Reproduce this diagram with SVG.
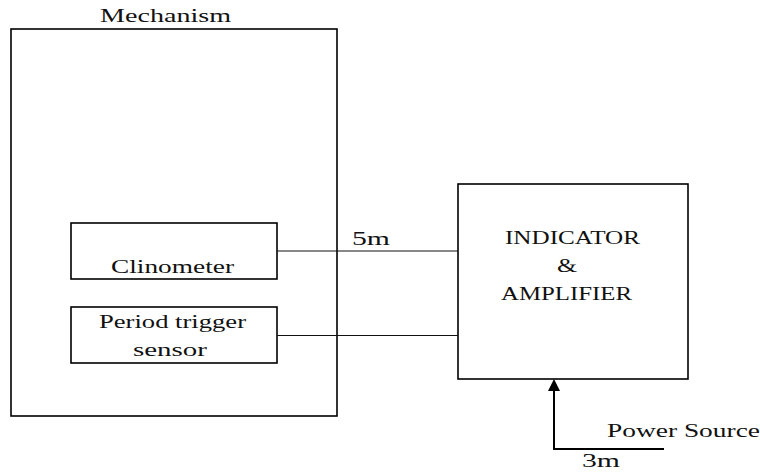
<svg xmlns="http://www.w3.org/2000/svg" width="760" height="472" viewBox="0 0 760 472">
<style>
.box{fill:none;stroke:#000;stroke-width:1.6}
.ln{fill:none;stroke:#111;stroke-width:1.2}
text{font-family:"Liberation Serif","DejaVu Serif",serif;font-size:18px;fill:#111}
</style>
<defs>
<marker id="ah" viewBox="0 0 12 12" markerWidth="12" markerHeight="12" refX="1" refY="6" orient="auto" markerUnits="userSpaceOnUse">
<path d="M0,0 L12,6 L0,12 Z" fill="#000"/>
</marker>
</defs>
<rect width="760" height="472" fill="#fff"/>
<g id="mechanism">
<rect class="box" x="11" y="29" width="326" height="387"/>
<text x="100" y="22" textLength="131" lengthAdjust="spacingAndGlyphs">Mechanism</text>
</g>
<g id="clinometer">
<rect class="box" x="71" y="223" width="206" height="56"/>
<text x="111" y="273" textLength="123" lengthAdjust="spacingAndGlyphs">Clinometer</text>
</g>
<g id="period">
<rect class="box" x="71" y="307" width="206" height="56"/>
<text x="99" y="328" textLength="147" lengthAdjust="spacingAndGlyphs">Period trigger</text>
<text x="133" y="356" textLength="74" lengthAdjust="spacingAndGlyphs">sensor</text>
</g>
<g id="indicator">
<rect class="box" x="458" y="184" width="230" height="195"/>
<text x="505" y="244" textLength="135" lengthAdjust="spacingAndGlyphs">INDICATOR</text>
<text x="557" y="272" textLength="20" lengthAdjust="spacingAndGlyphs">&amp;</text>
<text x="501" y="300" textLength="131" lengthAdjust="spacingAndGlyphs">AMPLIFIER</text>
</g>
<g id="connectors">
<line class="ln" x1="277" y1="251" x2="458" y2="251"/>
<line class="ln" x1="277" y1="335.5" x2="458" y2="335.5"/>
<path d="M664,449 H554 V390" fill="none" stroke="#000" stroke-width="2" marker-end="url(#ah)"/>
</g>
<g id="labels">
<text x="352" y="245" textLength="38" lengthAdjust="spacingAndGlyphs">5m</text>
<text x="607" y="437" textLength="153" lengthAdjust="spacingAndGlyphs">Power Source</text>
<text x="582" y="467" textLength="38" lengthAdjust="spacingAndGlyphs">3m</text>
</g>
</svg>
